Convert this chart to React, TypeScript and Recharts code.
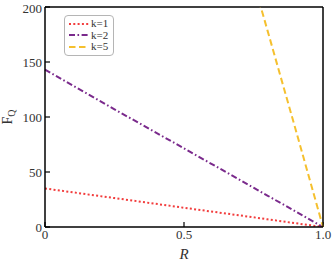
import { LineChart, Line, XAxis, YAxis, ReferenceLine, Label } from 'recharts';

const rValues = [0, 0.25, 0.5, 0.75, 0.8, 0.9, 1];
const k1 = [35, 26.3, 17.5, 8.8, 7, 3.5, 0];
const k2 = [143, 107, 71.5, 35.8, 28.6, 14.3, 0];
const k5 = [null, null, null, 223, 179, 90, 0];

const xTicks = [0, 0.5, 1];
const yTicks = [0, 50, 100, 150, 200];

const series = [
  { key: 'k1', name: 'k=1', color: '#f23d3d', dash: '2 2.3' },
  { key: 'k2', name: 'k=2', color: '#7a2a8c', dash: '6 2.5 1.6 2.5' },
  { key: 'k5', name: 'k=5', color: '#f5c02e', dash: '6.5 3.5' },
];

const data = rValues.map((r, i) => ({ r, k1: k1[i], k2: k2[i], k5: k5[i] }));

const font = "'Liberation Serif', 'DejaVu Serif', serif";

function LegendBox() {
  return (
    <div
      style={{
        position: 'absolute',
        left: 64,
        top: 15,
        width: 42,
        border: '1px solid #b5b5b5',
        borderRadius: 4,
        background: '#fff',
        padding: '2px 3px 2px 3px',
        fontFamily: font,
        fontSize: 11,
        lineHeight: '11px',
        color: '#333',
      }}
    >
      {series.map((s) => (
        <div key={s.key} style={{ display: 'flex', alignItems: 'center', height: 11.5, whiteSpace: 'nowrap' }}>
          <svg width={21} height={6} style={{ marginRight: 2, flexShrink: 0 }}>
            <line x1={1} y1={3} x2={21} y2={3} stroke={s.color} strokeWidth={2} strokeDasharray={s.dash} />
          </svg>
          <span>{s.name}</span>
        </div>
      ))}
    </div>
  );
}

export default function App() {
  return (
    <div style={{ position: 'absolute', left: 0, top: 0, width: 332, height: 264, background: '#fff' }}>
      <LineChart width={332} height={264} data={data} margin={{ top: 7, right: 9, left: 0, bottom: 0 }}>
        <XAxis
          dataKey="r"
          type="number"
          domain={[0, 1]}
          ticks={xTicks}
          tickFormatter={(v: number) => (v === 0 ? '0' : v.toFixed(1))}
          height={37}
          tickSize={-5}
          tickMargin={8}
          axisLine={{ stroke: '#000', strokeWidth: 1.5 }}
          tickLine={{ stroke: '#000', strokeWidth: 1.2 }}
          tick={{ fill: '#333', fontFamily: font, fontSize: 13 }}
        >
          <Label value="R" position="insideBottom" offset={5} style={{ fill: '#333', fontFamily: font, fontSize: 15, fontStyle: 'italic' }} />
        </XAxis>
        <YAxis
          type="number"
          domain={[0, 200]}
          ticks={yTicks}
          allowDataOverflow
          width={45}
          tickSize={-5}
          tickMargin={8}
          axisLine={{ stroke: '#000', strokeWidth: 1.5 }}
          tickLine={{ stroke: '#000', strokeWidth: 1.2 }}
          tick={{ fill: '#333', fontFamily: font, fontSize: 13 }}
        />
        <ReferenceLine y={200} stroke="#000" strokeWidth={1.5} />
        <ReferenceLine x={1} stroke="#000" strokeWidth={1.5} />
        {series.map((s) => (
          <Line
            key={s.key}
            dataKey={s.key}
            name={s.name}
            type="linear"
            stroke={s.color}
            strokeWidth={2}
            strokeDasharray={s.dash}
            dot={false}
            connectNulls={false}
            isAnimationActive={false}
          />
        ))}
      </LineChart>
      <LegendBox />
      <div
        style={{
          position: 'absolute',
          left: 8,
          top: 117,
          transform: 'translate(-50%, -50%) rotate(-90deg)',
          fontFamily: font,
          fontSize: 14,
          color: '#333',
          whiteSpace: 'nowrap',
        }}
      >
        F<sub style={{ fontSize: 10, verticalAlign: '-3px' }}>Q</sub>
      </div>
    </div>
  );
}
